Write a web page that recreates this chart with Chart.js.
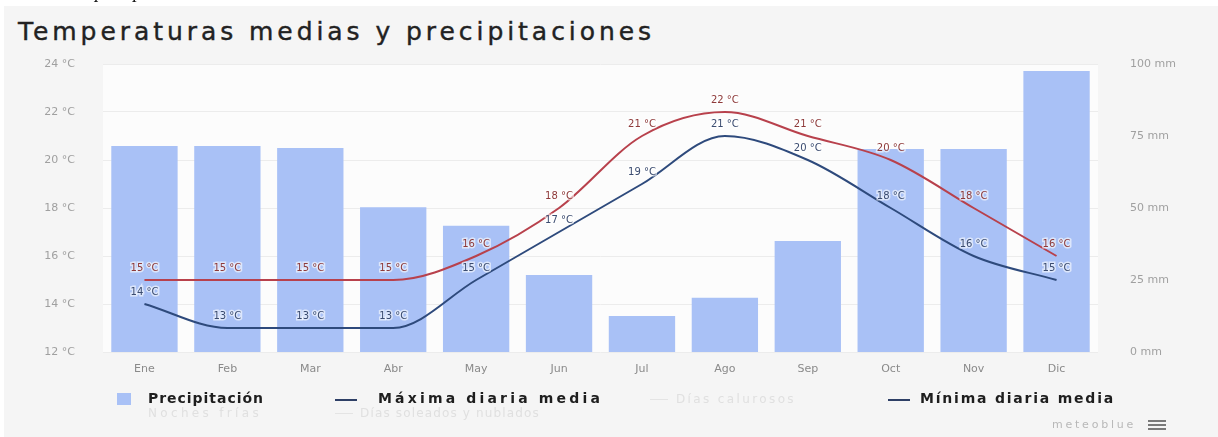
<!DOCTYPE html>
<html>
<head>
<meta charset="utf-8">
<script src="https://cdn.jsdelivr.net/npm/chart.js@4.4.0/dist/chart.umd.min.js"></script>
<style>
  html, body { margin:0; padding:0; background:#ffffff; }
  #wrap { position:relative; width:1218px; height:437px; overflow:hidden; background:#ffffff; }
  #card { position:absolute; left:4px; top:6px; width:1214px; height:431px; background:#f5f5f5; }
  #cap { position:absolute; left:95px; top:-19px; font-family:"Liberation Serif", serif; font-style:italic; font-size:19px; color:#111; white-space:nowrap; z-index:2; }
  #title { position:absolute; left:18px; top:17px; font-family:"DejaVu Sans", sans-serif; font-size:25px; color:#222; white-space:nowrap; -webkit-text-stroke:0.4px #222; }
  canvas { position:absolute; left:0; top:0; }
  .lg { position:absolute; font-family:"DejaVu Sans", sans-serif; white-space:nowrap; }
  .b { font-weight:bold; font-size:14px; color:#1e1e1e; }
  .f { font-size:12px; color:#e0e0e0; }
  .sw { position:absolute; }
  #brand { position:absolute; left:1052px; top:418px; font-family:"DejaVu Sans", sans-serif; font-size:11px; color:#b8b8b8; }
</style>
</head>
<body>
<div id="wrap">
  <div id="card"></div>
  <div id="title">Temperaturas medias y precipitaciones</div>
  <canvas id="c" width="1218" height="437"></canvas>
  <div id="cap">precipitaciones</div>

  <div class="sw" style="left:117px;top:393px;width:14px;height:12px;background:#a9c1f6;"></div>
  <div class="lg b" id="l1" style="left:148px;top:390px;">Precipitación</div>
  <div class="sw" style="left:335px;top:399px;width:22px;height:2px;background:#2e3f66;"></div>
  <div class="lg b" id="l2" style="left:378px;top:390px;">Máxima diaria media</div>
  <div class="sw" style="left:650px;top:399px;width:18px;height:1px;background:#e4e4e4;"></div>
  <div class="lg f" id="l3" style="left:676px;top:392px;">Días calurosos</div>
  <div class="sw" style="left:888px;top:399px;width:22px;height:2px;background:#2e3f66;"></div>
  <div class="lg b" id="l4" style="left:920px;top:390px;">Mínima diaria media</div>
  <div class="lg f" id="l5" style="left:148px;top:406px;">Noches frías</div>
  <div class="sw" style="left:335px;top:413px;width:18px;height:1px;background:#e4e4e4;"></div>
  <div class="lg f" id="l6" style="left:360px;top:406px;">Días soleados y nublados</div>
  <div id="brand">meteoblue</div>
  <div class="sw" style="left:1148px;top:420px;width:18px;height:2px;background:#7a7a7a;"></div>
  <div class="sw" style="left:1148px;top:424px;width:18px;height:2px;background:#7a7a7a;"></div>
  <div class="sw" style="left:1148px;top:428px;width:18px;height:2px;background:#7a7a7a;"></div>
</div>
<script>
// ---- data ----
const months = ['Ene','Feb','Mar','Abr','May','Jun','Jul','Ago','Sep','Oct','Nov','Dic'];
const precipitation = [71.5, 71.5, 70.8, 50.3, 43.8, 26.7, 12.5, 18.8, 38.5, 70.5, 70.5, 97.6];
const maxTemp = [15, 15, 15, 15, 16, 18, 21, 22, 21, 20, 18, 16];
const minTemp = [14, 13, 13, 13, 15, 17, 19, 21, 20, 18, 16, 15];
const tempTicks = [12, 14, 16, 18, 20, 22, 24];
const precipTicks = [0, 25, 50, 75, 100];

// fit text widths
function fit(id, w) {
  const el = document.getElementById(id);
  const cur = el.getBoundingClientRect().width;
  const n = el.textContent.length;
  el.style.letterSpacing = ((w - cur) / n) + 'px';
}
fit('title', 637);
fit('l1', 116);
fit('l2', 225);
fit('l4', 195);
fit('l3', 120);
fit('l5', 114);
fit('l6', 180);
fit('brand', 84);

const plotBg = {
  id: 'plotBg',
  beforeDraw(chart) {
    const {ctx, chartArea:a} = chart;
    ctx.save();
    ctx.fillStyle = '#fcfcfc';
    ctx.fillRect(a.left, a.top, a.right - a.left, a.bottom - a.top);
    ctx.restore();
  }
};

const labelsPlugin = {
  id: 'tempLabels',
  afterDatasetsDraw(chart) {
    const {ctx} = chart;
    ctx.save();
    ctx.font = '10px "DejaVu Sans", sans-serif';
    ctx.textAlign = 'center';
    ctx.textBaseline = 'middle';
    [[1, '#8e3a3a'], [2, '#3b4c70']].forEach(([di, col]) => {
      const meta = chart.getDatasetMeta(di);
      const data = chart.data.datasets[di].data;
      meta.data.forEach((pt, i) => {
        const t = data[i] + ' °C';
        ctx.lineWidth = 3;
        ctx.strokeStyle = 'rgba(255,255,255,0.6)';
        ctx.strokeText(t, pt.x, pt.y - 12);
        ctx.fillStyle = col;
        ctx.fillText(t, pt.x, pt.y - 12);
      });
    });
    ctx.restore();
  }
};

new Chart(document.getElementById('c'), {
  data: {
    labels: months,
    datasets: [
      { type:'bar', label:'Precipitación', data: precipitation, yAxisID:'y1',
        backgroundColor:'#a9c1f6', barPercentage:0.8, categoryPercentage:1.0, order:3 },
      { type:'line', label:'Máxima diaria media', data: maxTemp, yAxisID:'y',
        borderColor:'#b8414c', borderWidth:2, pointRadius:0, cubicInterpolationMode:'monotone', order:1 },
      { type:'line', label:'Mínima diaria media', data: minTemp, yAxisID:'y',
        borderColor:'#2e4a7c', borderWidth:2, pointRadius:0, cubicInterpolationMode:'monotone', order:2 }
    ]
  },
  options: {
    responsive:false, animation:false,
    layout: { padding: { top:64, bottom:55, left:0, right:0 } },
    plugins: { legend:{display:false}, tooltip:{enabled:false} },
    scales: {
      x: {
        grid:{ display:false }, border:{ display:false },
        ticks:{ color:'#8a8a8a', font:{ family:'DejaVu Sans', size:11 }, padding:3 },
        afterFit(s) { s.height = 30; }
      },
      y: {
        position:'left', min:12, max:24,
        afterBuildTicks(s) { s.ticks = tempTicks.map(v => ({value:v})); },
        ticks:{ color:'#a0a0a0', font:{ family:'DejaVu Sans', size:11 }, padding:28,
          callback:(v) => v + ' °C' },
        grid:{ color:'#ececec', drawTicks:false }, border:{ display:false },
        afterFit(s) { s.width = 103; }
      },
      y1: {
        position:'right', min:0, max:100,
        afterBuildTicks(s) { s.ticks = precipTicks.map(v => ({value:v})); },
        ticks:{ color:'#a0a0a0', font:{ family:'DejaVu Sans', size:11 }, padding:24,
          callback:(v) => v + ' mm' },
        grid:{ display:false }, border:{ display:false },
        afterFit(s) { s.width = 120; }
      }
    }
  },
  plugins: [plotBg, labelsPlugin]
});
</script>
</body>
</html>
